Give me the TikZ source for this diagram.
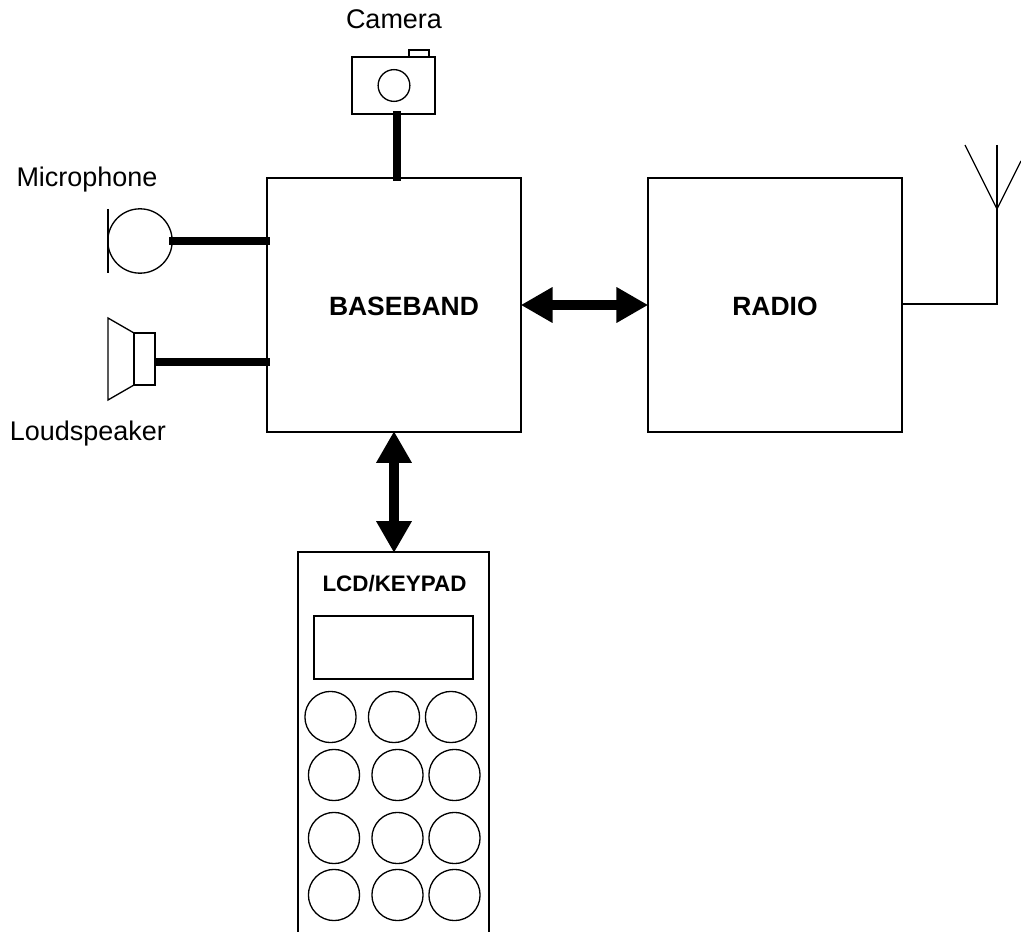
\documentclass[tikz,border=0pt]{standalone}
\usepackage{fontspec}
\setmainfont{Liberation Sans}
\usetikzlibrary{arrows.meta}
\tikzset{
	blockbox/.style={draw,minimum size=144pt,inner sep=0pt,font=\fontsize{15}{18}\selectfont\bfseries},
	keybutton/.style={draw,circle,minimum size=29pt,inner sep=0pt},
	plainlabel/.style={inner sep=0pt,font=\fontsize{15.3}{18}\selectfont},
	thickwire/.style={line width=4pt},
	busarrow/.style={line width=5.5pt,{Triangle[length=18pt,width=19pt]}-{Triangle[length=18pt,width=19pt]},shorten <=-0.5pt,shorten >=-0.5pt},
}
\begin{document}
\begin{tikzpicture}[x=0.567pt,y=-0.567pt,line width=0.75pt]
	\useasboundingbox (0,0) rectangle (1021,932);
	% main blocks
	\node[blockbox] (baseband) at (394,305) {};
	\node[plainlabel,font=\fontsize{15}{18}\selectfont\bfseries] (basebandtext) at (404,306) {BASEBAND};
	\node[blockbox] (radio) at (775,305) {};
	\node[plainlabel,font=\fontsize{15}{18}\selectfont\bfseries] (radiotext) at (775,306) {RADIO};
	\draw[busarrow] (baseband.east)--(radio.west);
	% camera
	\node[plainlabel] (cameratext) at (394,19) {Camera};
	\node[draw,minimum width=47pt,minimum height=32.5pt,inner sep=0pt] (camera) at (393.5,85.5) {};
	\node[draw,circle,minimum size=18pt,inner sep=0pt] (lens) at (394,85.5) {};
	\draw (409,57)--(409,50)--(429,50)--(429,57);
	\coordinate (camerawire) at (397,111);
	\coordinate (basebandtop) at (397,181);
	\draw[thickwire] (camerawire)--(basebandtop);
	% microphone
	\node[plainlabel] (mictext) at (87,180) {Microphone};
	\node[draw,circle,minimum size=36.5pt,inner sep=0pt] (mic) at (140,241) {};
	\draw (108,209)--(108,273);
	\coordinate (micleft) at (169,241);
	\coordinate (micin) at (270,241);
	\draw[thickwire] (micleft)--(micin);
	% loudspeaker
	\node[plainlabel] (speakertext) at (88,434) {Loudspeaker};
	\draw (134,333)--(108,318)--(108,400)--(134,385);
	\node[draw,minimum width=12pt,minimum height=29.5pt,inner sep=0pt] (speaker) at (144.5,359) {};
	\coordinate (speakerright) at (156,362);
	\coordinate (speakerin) at (270,362);
	\draw[thickwire] (speakerright)--(speakerin);
	% antenna
	\coordinate (antennafoot) at (997,304);
	\coordinate (antennatip) at (997,209);
	\coordinate (radioright) at (902,304);
	\draw (radioright)--(antennafoot)--(antennatip);
	\draw (965,145)--(antennatip)--(1021,161);
	\draw (997,145)--(antennatip);
	% handset, cut off by the page
	\draw (298,932)--(298,552)--(489,552)--(489,932);
	\coordinate (handset) at (394,552);
	\coordinate (basebandfoot) at (394,432);
	\draw[busarrow] (basebandfoot)--(handset);
	\node[plainlabel,font=\fontsize{12.7}{15}\selectfont\bfseries] (handsettext) at (394.5,584) {LCD/KEYPAD};
	\node[draw,minimum width=90pt,minimum height=35.7pt,inner sep=0pt] (display) at (393.5,647.5) {};
	\foreach \name/\x/\y in {a/330.5/717,b/394/717,c/451/717,
		d/334/775,e/397.5/775,f/454.5/775,
		g/334/838,h/397.5/838,i/454.5/838,
		j/334/895,k/397.5/895,l/454.5/895}
		\node[keybutton] (key\name) at (\x,\y) {};
\end{tikzpicture}
\end{document}
